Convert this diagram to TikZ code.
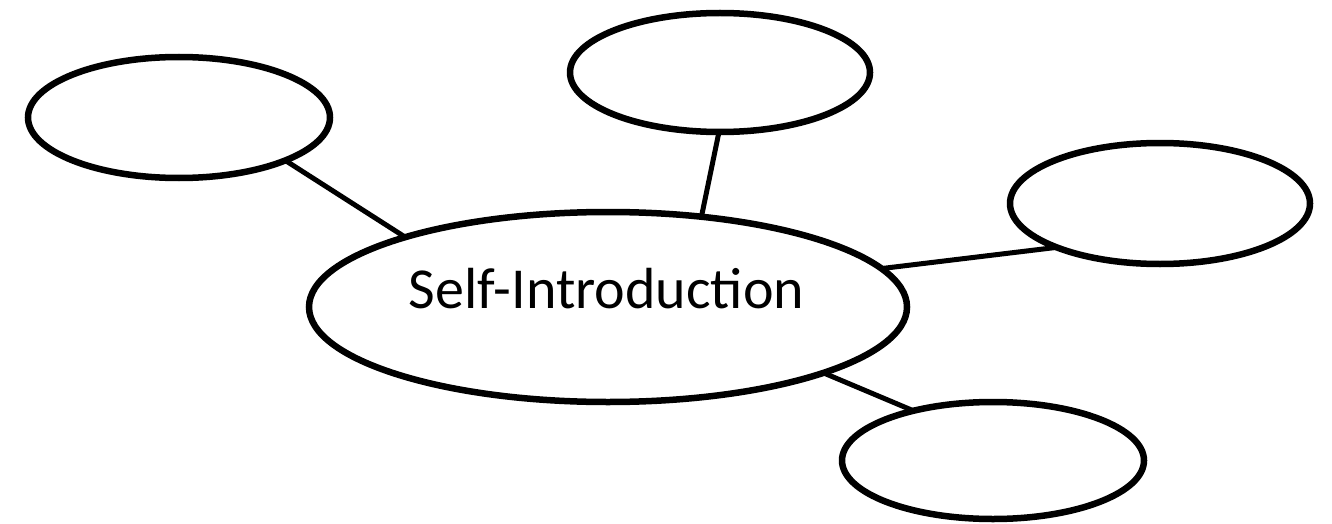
\documentclass[tikz,border=0pt]{standalone}
\usepackage{fontspec}
\setmainfont{Carlito}
\usetikzlibrary{shapes.geometric}
\begin{document}
\begin{tikzpicture}[x=1pt,y=-1pt,
  bubble/.style={draw=black,line width=6.5pt,ellipse,inner sep=0pt,outer sep=0pt,fill=white},
  link/.style={draw=black,line width=5pt}]
\useasboundingbox[fill=white] (0,0) rectangle (1332,524);
\node[bubble,minimum width=598pt,minimum height=190pt] (c) at (608,307) {};
\node[bubble,minimum width=302pt,minimum height=121pt] (tl) at (179,117.5) {};
\node[bubble,minimum width=300pt,minimum height=119pt] (tm) at (720,72.5) {};
\node[bubble,minimum width=300pt,minimum height=121pt] (r) at (1160,203.5) {};
\node[bubble,minimum width=302pt,minimum height=117pt] (b) at (993,460.5) {};
\node[anchor=base,inner sep=0pt,font=\fontsize{58}{62}\selectfont] (t) at (606.5,308) {Self-Introduction};
\draw[link] (tl.-22.4) -- (c.161.4);
\draw[link] (tm.-91) -- (c.44.1);
\draw[link] (r.-157.5) -- (c.8);
\draw[link] (b.148.1) -- (c.-17.1);
\end{tikzpicture}
\end{document}
